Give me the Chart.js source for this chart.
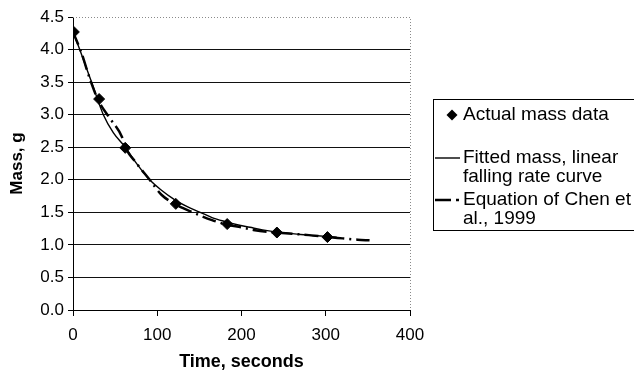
<!DOCTYPE html>
<html>
<head>
<meta charset="utf-8">
<script src="https://cdn.jsdelivr.net/npm/chart.js@4.4.1/dist/chart.umd.min.js"></script>
<style>
  html, body { margin: 0; padding: 0; background: #fff; }
</style>
</head>
<body>
<canvas id="massChart" width="634" height="372"></canvas>
<script>
// data
const actualTime = [1, 31, 62, 122, 183, 242, 302];
const actualMass = [4.27, 3.24, 2.49, 1.63, 1.32, 1.19, 1.12];

const fittedTime = [0, 8, 22, 36, 48, 62, 76, 91, 105, 120, 135, 151, 165, 180, 195, 210, 225, 240, 255, 270, 285, 300, 313];
const fittedMass = [4.27, 4.0, 3.5, 3.0, 2.72, 2.5, 2.24, 2.0, 1.84, 1.7, 1.59, 1.5, 1.42, 1.36, 1.31, 1.27, 1.23, 1.2, 1.18, 1.16, 1.145, 1.13, 1.12];

const chenTime = [0, 10, 20, 30, 44, 58, 62, 75, 91, 105, 122, 142, 165, 183, 200, 214, 230, 242, 260, 280, 302, 320, 338, 352];
const chenMass = [4.27, 3.95, 3.55, 3.22, 2.94, 2.66, 2.5, 2.26, 2.0, 1.77, 1.62, 1.5, 1.38, 1.31, 1.27, 1.23, 1.2, 1.19, 1.17, 1.15, 1.12, 1.1, 1.08, 1.07];

const timeTicks = [0, 100, 200, 300, 400];
const massTicks = [0, 0.5, 1.0, 1.5, 2.0, 2.5, 3.0, 3.5, 4.0, 4.5];

const legendLabels = [
    ['Actual mass data'],
    ['Fitted mass, linear', 'falling rate curve'],
    ['Equation of Chen et', 'al., 1999']
];

const FONT = "'Liberation Sans', Arial, sans-serif";

function toPoints(xs, ys) {
    return xs.map((x, i) => ({ x: x, y: ys[i] }));
}

// dotted top/right frame of the plot area
const plotFrame = {
    id: 'plotFrame',
    afterDraw(chart) {
        const { ctx, chartArea: a } = chart;
        ctx.save();
        ctx.strokeStyle = '#8a8a8a';
        ctx.lineWidth = 1;
        ctx.setLineDash([1, 2]);
        ctx.beginPath();
        ctx.moveTo(a.left, a.top + 0.5);
        ctx.lineTo(a.right + 0.5, a.top + 0.5);
        ctx.lineTo(a.right + 0.5, a.bottom);
        ctx.stroke();
        ctx.restore();
    }
};

// boxed legend at the right, drawn by hand because of the two-line labels
const boxLegend = {
    id: 'boxLegend',
    afterDraw(chart) {
        const ctx = chart.ctx;
        const left = 433, top = 99, bottom = 230;
        const textX = 463;
        ctx.save();
        ctx.strokeStyle = '#000';
        ctx.lineWidth = 1;
        ctx.strokeRect(left + 0.5, top + 0.5, 240, bottom - top);

        ctx.font = '19px ' + FONT;
        ctx.fillStyle = '#000';
        ctx.textBaseline = 'middle';

        // diamond
        const dy = 115;
        ctx.beginPath();
        ctx.moveTo(452, dy - 5.5);
        ctx.lineTo(457.5, dy);
        ctx.lineTo(452, dy + 5.5);
        ctx.lineTo(446.5, dy);
        ctx.closePath();
        ctx.fill();
        ctx.fillText(legendLabels[0][0], textX, dy);

        // solid line
        const sy = 158;
        ctx.lineWidth = 1.4;
        ctx.beginPath();
        ctx.moveTo(435, sy);
        ctx.lineTo(460, sy);
        ctx.stroke();
        ctx.fillText(legendLabels[1][0], textX, sy);
        ctx.fillText(legendLabels[1][1], textX, sy + 19);

        // dashed line
        const ey = 200;
        ctx.lineWidth = 2.5;
        ctx.setLineDash([16, 5, 3, 40]);
        ctx.beginPath();
        ctx.moveTo(435, ey);
        ctx.lineTo(460, ey);
        ctx.stroke();
        ctx.setLineDash([]);
        ctx.fillText(legendLabels[2][0], textX, ey);
        ctx.fillText(legendLabels[2][1], textX, ey + 19);
        ctx.restore();
    }
};

const ctx = document.getElementById('massChart').getContext('2d');
const massChart = new Chart(ctx, {
    type: 'scatter',
    data: {
        datasets: [
            {
                label: 'Fitted mass, linear falling rate curve',
                data: toPoints(fittedTime, fittedMass),
                showLine: true,
                borderColor: '#000',
                borderWidth: 1.4,
                pointRadius: 0,
                cubicInterpolationMode: 'monotone'
            },
            {
                label: 'Equation of Chen et al., 1999',
                data: toPoints(chenTime, chenMass),
                showLine: true,
                borderColor: '#000',
                borderWidth: 2.5,
                borderDash: [14, 5, 2, 5],
                pointRadius: 0,
                cubicInterpolationMode: 'monotone'
            },
            {
                label: 'Actual mass data',
                data: toPoints(actualTime, actualMass),
                showLine: false,
                pointStyle: 'rectRot',
                pointRadius: 5.5,
                backgroundColor: '#000',
                borderColor: '#000'
            }
        ]
    },
    options: {
        responsive: false,
        animation: false,
        layout: { padding: { top: 17, right: 224, left: 0, bottom: 0 } },
        plugins: {
            legend: { display: false },
            tooltip: { enabled: false }
        },
        scales: {
            x: {
                type: 'linear',
                min: 0,
                max: 400,
                afterFit(scale) { scale.height = 62; },
                afterBuildTicks(scale) { scale.ticks = timeTicks.map(v => ({ value: v })); },
                ticks: {
                    color: '#000',
                    padding: 9,
                    font: { family: FONT, size: 17 },
                    callback: v => String(v)
                },
                grid: {
                    drawOnChartArea: false,
                    drawTicks: true,
                    tickLength: 6,
                    color: '#000'
                },
                border: { color: '#000', width: 1 },
                title: {
                    display: true,
                    text: 'Time, seconds',
                    color: '#000',
                    font: { family: FONT, size: 18, weight: 'bold' },
                    padding: { top: 0, bottom: -1 }
                }
            },
            y: {
                min: 0,
                max: 4.5,
                afterFit(scale) { scale.width = 73; },
                afterBuildTicks(scale) { scale.ticks = massTicks.map(v => ({ value: v })); },
                ticks: {
                    color: '#000',
                    padding: 4,
                    font: { family: FONT, size: 17 },
                    callback: v => v.toFixed(1)
                },
                grid: {
                    color: c => (c.tick && c.tick.value === 4.5) ? 'rgba(0,0,0,0)' : '#111',
                    lineWidth: 1,
                    tickLength: 5,
                    tickColor: '#000'
                },
                border: { color: '#000', width: 1 },
                title: {
                    display: true,
                    text: 'Mass, g',
                    color: '#000',
                    font: { family: FONT, size: 17, weight: 'bold' },
                    padding: { top: 7, bottom: 0 }
                }
            }
        }
    },
    plugins: [plotFrame, boxLegend]
});
</script>
</body>
</html>
